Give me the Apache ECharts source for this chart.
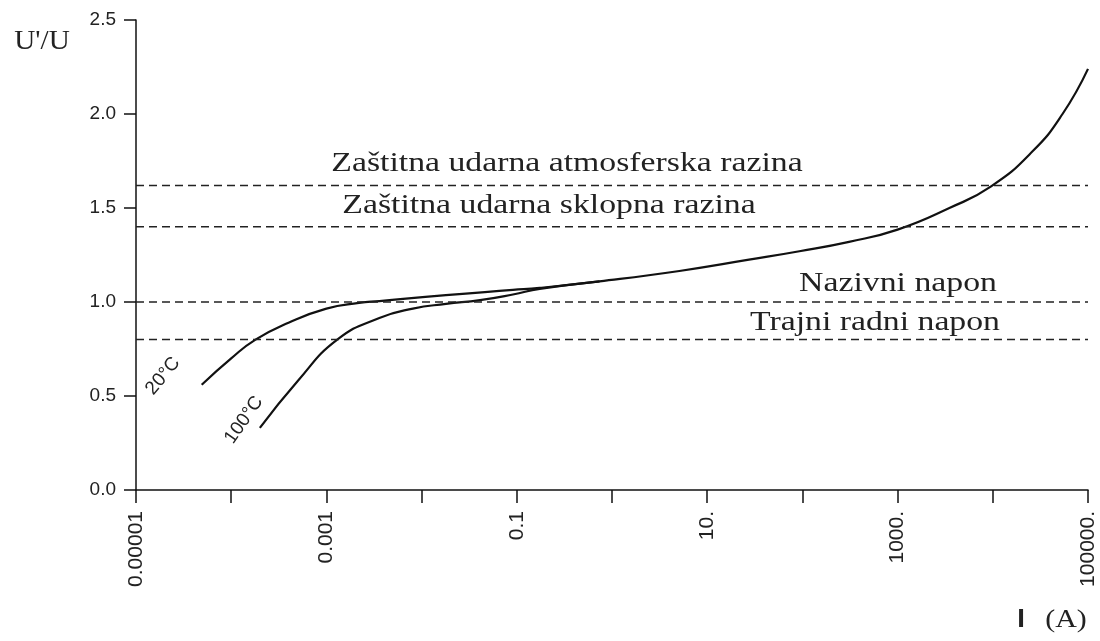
<!DOCTYPE html>
<html>
<head>
<meta charset="utf-8">
<script src="https://cdn.jsdelivr.net/npm/echarts@6/dist/echarts.min.js"></script>
<style>
  html, body { margin: 0; padding: 0; background: #fff; }
  #chart { width: 1100px; height: 641px; }
</style>
</head>
<body>
<div id="chart"></div>
<script>
// struja (A) i omjer U'/U ocitani sa slike
var curve20I = [4.9e-5, 1e-4, 1.8e-4, 4e-4, 1e-3, 2.2e-3, 3.6e-3, 0.018, 0.091, 0.174]
var curve20U = [0.56, 0.70, 0.80, 0.89, 0.965, 0.995, 1.005, 1.037, 1.064, 1.075]
var curve100I = [2e-4, 5e-4, 1.3e-3, 3.6e-3, 8.1e-3, 0.018, 0.041, 0.091, 0.174]
var curve100U = [0.33, 0.58, 0.80, 0.915, 0.965, 0.99, 1.01, 1.04, 1.07]
// zajednicki dio krivulje
var tailI = [0.74, 5.1, 27.5, 93, 309, 1000, 3500, 9600, 26000, 54000, 100000]
var tailU = [1.11, 1.165, 1.225, 1.27, 1.32, 1.385, 1.50, 1.615, 1.80, 2.0, 2.24]
// razine (isprekidane linije)
var levelNames = ['Zaštitna udarna atmosferska razina', 'Zaštitna udarna sklopna razina', 'Nazivni napon', 'Trajni radni napon']
var levelValues = [1.62, 1.4, 1.0, 0.8]
var levelRange = [1e-5, 1e5]
var xTickLabels = ['0.00001', '', '0.001', '', '0.1', '', '10.', '', '1000.', '', '100000.']
var yTicks = [0, 0.5, 1.0, 1.5, 2.0, 2.5]

var chart = echarts.init(document.getElementById('chart'))

function pairs(xs, ys) {
    return xs.map(function (x, i) { return [x, ys[i]] })
}

var lineStyle = { color: '#111', width: 2.2 }
var series = [
    {
        type: 'line', smooth: 0.5, symbol: 'none',
        lineStyle: lineStyle,
        data: pairs(curve20I.concat(tailI), curve20U.concat(tailU))
    },
    {
        type: 'line', smooth: 0.5, symbol: 'none',
        lineStyle: lineStyle,
        data: pairs(curve100I, curve100U).concat([[tailI[0], tailU[0]]])
    }
]
levelValues.forEach(function (v) {
    series.push({
        type: 'line', symbol: 'none', silent: true,
        lineStyle: { color: '#222', width: 1.5, type: [8, 5] },
        data: levelRange.map(function (x) { return [x, v] })
    })
})

var serif = 'Liberation Serif'
var sans = 'Liberation Sans'
var levelLabelPos = [[567, 164], [549, 206], [898, 284], [875, 323]]

function label(text, x, y, font, sx, rot) {
    return {
        type: 'text', x: x, y: y, scaleX: sx || 1, rotation: rot || 0,
        style: { text: text, font: font, fill: '#222', textAlign: 'center', textVerticalAlign: 'middle' }
    }
}

var graphic = levelNames.map(function (name, i) {
    return label(name, levelLabelPos[i][0], levelLabelPos[i][1], '27px "' + serif + '"', 1.25)
})
graphic.push(
    label("U'/U", 42, 42, '27px "' + serif + '"', 1.08),
    label('I', 1021, 620, 'bold 25px "' + sans + '"', 1.1),
    label('(A)', 1066, 620, '26px "' + serif + '"', 1.15),
    label('20°C', 163, 376, '19px "' + sans + '"', 1, 50 * Math.PI / 180),
    label('100°C', 244, 420, '19px "' + sans + '"', 1, 55 * Math.PI / 180)
)

chart.setOption({
    animation: false,
    backgroundColor: '#fff',
    grid: { left: 136, right: 12, top: 20, bottom: 151 },
    xAxis: {
        type: 'log', logBase: 10, min: 1e-5, max: 1e5, interval: 1,
        axisLine: { lineStyle: { color: '#111', width: 1.5 } },
        axisTick: { length: 13, lineStyle: { color: '#111', width: 1.5 } },
        minorTick: { show: false },
        splitLine: { show: false },
        axisLabel: {
            rotate: 90, margin: 21, color: '#222', fontFamily: sans, fontSize: 21,
            showMinLabel: true, showMaxLabel: true,
            formatter: function (v) {
                var k = Math.round(Math.log10(v)) + 5
                return xTickLabels[k] || ''
            }
        }
    },
    yAxis: {
        type: 'value', min: yTicks[0], max: yTicks[yTicks.length - 1], interval: 0.5,
        axisLine: { show: true, lineStyle: { color: '#111', width: 1.5 } },
        axisTick: { show: true, length: 12, lineStyle: { color: '#111', width: 1.5 } },
        splitLine: { show: false },
        axisLabel: {
            margin: 20, color: '#222', fontFamily: sans, fontSize: 19,
            formatter: function (v) { return v.toFixed(1) }
        }
    },
    series: series,
    graphic: graphic
})
</script>
</body>
</html>
